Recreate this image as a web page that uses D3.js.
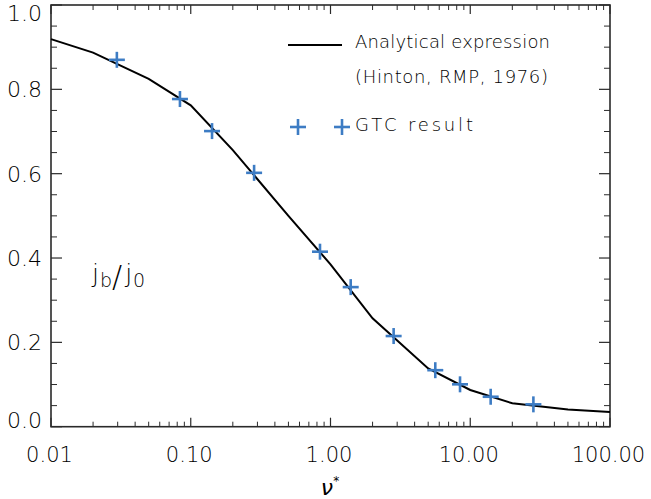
<!DOCTYPE html>
<html>
<head>
<meta charset="utf-8">
<script src="https://cdn.jsdelivr.net/npm/d3@7"></script>
<style>
  html, body { margin: 0; padding: 0; background: #fff; }
  svg { display: block; }
  text { font-family: "DejaVu Sans", sans-serif; fill: #000; }
</style>
</head>
<body>
<svg id="chart" width="651" height="499"></svg>
<script>
// ---- data ----
const curveNu = [0.01, 0.02, 0.05, 0.1, 0.2, 0.5, 1, 2, 5, 10, 20, 50, 100];
const curveJ  = [0.919, 0.887, 0.825, 0.762, 0.656, 0.500, 0.385, 0.257, 0.138, 0.087, 0.0555, 0.041, 0.035];
const gtcNu = [0.0296, 0.0837, 0.142, 0.284, 0.841, 1.395, 2.83, 5.62, 8.45, 14.0, 28.3];
const gtcJ  = [0.870, 0.777, 0.701, 0.602, 0.415, 0.331, 0.215, 0.134, 0.1005, 0.071, 0.053];
const xTicks = [0.01, 0.1, 1, 10, 100];
const xTickLabels = ["0.01", "0.10", "1.00", "10.00", "100.00"];
const yTicks = [0, 0.2, 0.4, 0.6, 0.8, 1.0];
const yTickLabels = ["0.0", "0.2", "0.4", "0.6", "0.8", "1.0"];
const legendLabels = ["Analytical expression", "(Hinton, RMP, 1976)", "GTC result"];

// ---- layout ----
const svg = d3.select("#chart");
const L = 51, R = 610, T = 5, B = 426.7;
const x = d3.scaleLog().domain([0.01, 100]).range([L, R]);
const y = d3.scaleLinear().domain([0, 1]).range([B, T]);
const blue = "#3d7cc4";
const axisColor = "#2a2a2a";

// minor ticks
const xMinor = [];
for (let e = -2; e < 2; e++) for (let m = 2; m <= 9; m++) xMinor.push(m * Math.pow(10, e));
const yMinor = d3.range(0, 21).map(i => i * 0.05).filter(v => !yTicks.some(t => Math.abs(t - v) < 1e-6));

const g = svg.append("g");
// x ticks (bottom and top)
[[B, -1], [T, 1]].forEach(([yy, dir]) => {
  g.selectAll(null).data(xMinor).enter().append("line")
    .attr("x1", d => x(d)).attr("x2", d => x(d))
    .attr("y1", yy).attr("y2", yy + dir * 5)
    .attr("stroke", axisColor).attr("stroke-width", 1);
  g.selectAll(null).data(xTicks).enter().append("line")
    .attr("x1", d => x(d)).attr("x2", d => x(d))
    .attr("y1", yy).attr("y2", yy + dir * 9)
    .attr("stroke", axisColor).attr("stroke-width", 1.2);
});
// y ticks (left and right)
[[L, 1], [R, -1]].forEach(([xx, dir]) => {
  g.selectAll(null).data(yMinor).enter().append("line")
    .attr("y1", d => y(d)).attr("y2", d => y(d))
    .attr("x1", xx).attr("x2", xx + dir * 6)
    .attr("stroke", axisColor).attr("stroke-width", 1);
  g.selectAll(null).data(yTicks).enter().append("line")
    .attr("y1", d => y(d)).attr("y2", d => y(d))
    .attr("x1", xx).attr("x2", xx + dir * 11)
    .attr("stroke", axisColor).attr("stroke-width", 1.2);
});
// frame
g.append("rect").attr("x", L).attr("y", T).attr("width", R - L).attr("height", B - T)
  .attr("fill", "none").attr("stroke", axisColor).attr("stroke-width", 1.6);

// tick labels
svg.selectAll(null).data(xTicks).enter().append("text")
  .attr("x", d => x(d) - 1.5).attr("y", 454).attr("dy", "0.36em")
  .attr("text-anchor", "middle").attr("font-size", 21).attr("font-weight", 200)
  .text((d, i) => xTickLabels[i]);
svg.selectAll(null).data(yTicks).enter().append("text")
  .attr("x", 42).attr("y", d => y(d) + (d === 0 ? -6.7 : d === 1 ? 8.5 : 0)).attr("dy", "0.36em")
  .attr("text-anchor", "end").attr("font-size", 22).attr("font-weight", 200)
  .text((d, i) => yTickLabels[i]);

// curve
const line = d3.line().x(d => x(d[0])).y(d => y(d[1]));
svg.append("path").datum(curveNu.map((v, i) => [v, curveJ[i]]))
  .attr("d", line).attr("fill", "none").attr("stroke", "#000").attr("stroke-width", 2);

// crosses
function cross(sel, cx, cy, s) {
  sel.append("line").attr("x1", cx - s).attr("x2", cx + s).attr("y1", cy).attr("y2", cy)
    .attr("stroke", blue).attr("stroke-width", 2.6);
  sel.append("line").attr("x1", cx).attr("x2", cx).attr("y1", cy - s).attr("y2", cy + s)
    .attr("stroke", blue).attr("stroke-width", 2.6);
}
const pts = svg.append("g");
gtcNu.forEach((v, i) => cross(pts, x(v), y(gtcJ[i]), 8));

// legend
svg.append("line").attr("x1", 288).attr("x2", 342).attr("y1", 45).attr("y2", 45)
  .attr("stroke", "#000").attr("stroke-width", 2);
svg.append("text").attr("x", 355).attr("y", 48).attr("font-size", 18).attr("font-weight", 200)
  .attr("textLength", 195).attr("lengthAdjust", "spacing").text(legendLabels[0]);
svg.append("text").attr("x", 355).attr("y", 83).attr("font-size", 18).attr("font-weight", 200)
  .attr("textLength", 193).attr("lengthAdjust", "spacing").text(legendLabels[1]);
cross(svg, 298, 127, 8);
cross(svg, 342, 127, 8);
svg.append("text").attr("x", 355).attr("y", 131).attr("font-size", 18).attr("font-weight", 200)
  .attr("textLength", 118).attr("lengthAdjust", "spacing").text(legendLabels[2]);

// y label j_b / j_0
const jl = svg.append("text").attr("x", 92).attr("y", 282).attr("font-size", 25).attr("font-weight", 200);
jl.append("tspan").text("j");
jl.append("tspan").attr("dy", 5).attr("dx", 1).attr("font-size", 19).text("b");
jl.append("tspan").attr("dy", 0).attr("dx", 0).attr("font-size", 30).text("/");
jl.append("tspan").attr("dy", -5).attr("dx", 3).text("j");
jl.append("tspan").attr("dy", 5).attr("dx", 1).attr("font-size", 19).text("0");

// x label nu*
const xl = svg.append("text").attr("x", 330).attr("y", 495).attr("text-anchor", "middle")
  .attr("font-size", 22).attr("font-style", "italic").attr("font-weight", 200);
xl.append("tspan").text("ν");
xl.append("tspan").attr("dy", -10).attr("font-size", 12).text("*");
</script>
</body>
</html>
